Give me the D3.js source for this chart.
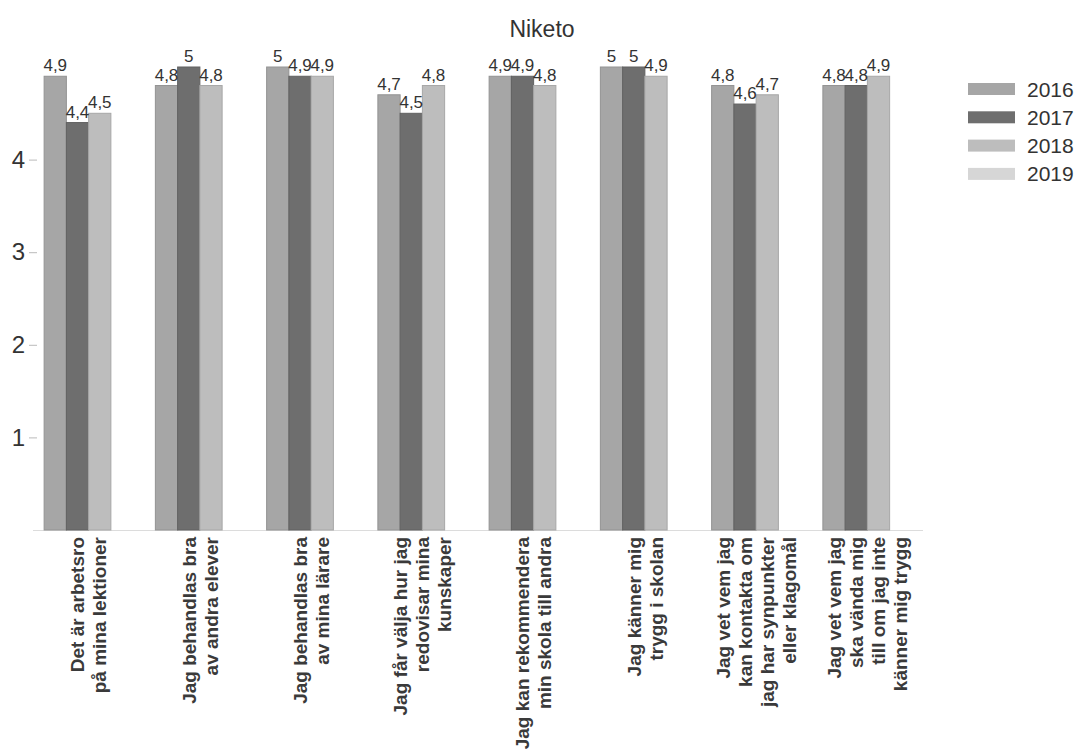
<!DOCTYPE html>
<html>
<head>
<meta charset="utf-8">
<script src="https://cdn.jsdelivr.net/npm/d3@7"></script>
<style>
  html, body { margin: 0; padding: 0; background: #fff; }
  svg { display: block; font-family: "Liberation Sans", Arial, sans-serif; }
</style>
</head>
<body>
<svg id="chart" width="1076" height="753"></svg>
<script>
// ---- data ----
const title = "Niketo";
const categoryLines = [
  ["Det är arbetsro", "på mina lektioner"],
  ["Jag behandlas bra", "av andra elever"],
  ["Jag behandlas bra", "av mina lärare"],
  ["Jag får välja hur jag", "redovisar mina", "kunskaper"],
  ["Jag kan rekommendera", "min skola till andra"],
  ["Jag känner mig", "trygg i skolan"],
  ["Jag vet vem jag", "kan kontakta om", "jag har synpunkter", "eller klagomål"],
  ["Jag vet vem jag", "ska vända mig", "till om jag inte", "känner mig trygg"]
];
const years = ["2016", "2017", "2018", "2019"];
const values2016 = [4.9, 4.8, 5, 4.7, 4.9, 5, 4.8, 4.8];
const values2017 = [4.4, 5, 4.9, 4.5, 4.9, 5, 4.6, 4.8];
const values2018 = [4.5, 4.8, 4.9, 4.8, 4.8, 4.9, 4.7, 4.9];
const values2019 = [null, null, null, null, null, null, null, null];
const yTicks = [1, 2, 3, 4];
const colors = ["#a6a6a6", "#6e6e6e", "#bdbdbd", "#d6d6d6"];

// ---- build ----
const categories = categoryLines.map(l => l.join(" "));
const seriesValues = [values2016, values2017, values2018, values2019];
const rows = [];
categories.forEach((c, i) => {
  years.forEach((yr, j) => {
    const v = seriesValues[j][i];
    if (v !== null && v !== undefined) rows.push({ cat: c, year: yr, value: v, color: colors[j] });
  });
});

const svg = d3.select("#chart");

const x0 = d3.scaleBand().domain(categories).range([33, 923]).paddingInner(0.2).paddingOuter(0.1);
const x1 = d3.scaleBand().domain(years).range([0, x0.bandwidth()]);
const y = d3.scaleLinear().domain([0, 5]).range([530, 67]);

// title
svg.append("text")
  .attr("x", 542).attr("y", 37)
  .attr("text-anchor", "middle")
  .attr("font-size", 23)
  .attr("fill", "#333")
  .text(title);

// baseline
svg.append("line")
  .attr("x1", 33).attr("x2", 923)
  .attr("y1", y(0) + 0.5).attr("y2", y(0) + 0.5)
  .attr("stroke", "#dcdcdc").attr("stroke-width", 1);

// y axis
const yAxis = svg.append("g")
  .attr("transform", "translate(37,0)")
  .call(d3.axisLeft(y).tickValues(yTicks).tickSize(8).tickPadding(4).tickFormat(d3.format("d")));
yAxis.select(".domain").remove();
yAxis.selectAll(".tick line").attr("stroke", "#bbb");
yAxis.selectAll(".tick text")
  .attr("font-size", 24)
  .attr("fill", "#333")
  .attr("font-family", "Liberation Sans, Arial, sans-serif");

// bars
svg.append("g").selectAll("rect")
  .data(rows)
  .join("rect")
  .attr("x", d => x0(d.cat) + x1(d.year))
  .attr("y", d => y(d.value))
  .attr("width", x1.bandwidth())
  .attr("height", d => y(0) - y(d.value))
  .attr("fill", d => d.color)
  .attr("stroke", d => d3.color(d.color).darker(0.35))
  .attr("stroke-width", 1);

// value labels
svg.append("g").selectAll("text")
  .data(rows)
  .join("text")
  .attr("x", d => x0(d.cat) + x1(d.year) + x1.bandwidth() / 2)
  .attr("y", d => y(d.value) - 5)
  .attr("text-anchor", "middle")
  .attr("font-size", 17)
  .attr("fill", "#333")
  .text(d => String(d.value).replace(".", ","));

// category labels (rotated)
const lineH = 22;
const catG = svg.append("g").selectAll("text")
  .data(categoryLines)
  .join("text")
  .attr("transform", (d, i) => `translate(${x0(categories[i]) + x0.bandwidth() / 2},537) rotate(-90)`)
  .attr("text-anchor", "end")
  .attr("font-size", 19)
  .attr("font-weight", "bold")
  .attr("fill", "#3a3a3a");
catG.each(function (lines) {
  const t = d3.select(this);
  const n = lines.length;
  lines.forEach((ln, k) => {
    t.append("tspan")
      .attr("x", 0)
      .attr("y", (k - (n - 1) / 2) * lineH)
      .attr("dy", "0.35em")
      .text(ln);
  });
});

// legend
const leg = svg.append("g").selectAll("g")
  .data(years)
  .join("g")
  .attr("transform", (d, i) => `translate(968,${83 + i * 28.3})`);
leg.append("rect")
  .attr("width", 47).attr("height", 12)
  .attr("fill", (d, i) => colors[i]);
leg.append("text")
  .attr("x", 59).attr("y", 6)
  .attr("dy", "0.36em")
  .attr("font-size", 21)
  .attr("fill", "#333")
  .text(d => d);
</script>
</body>
</html>
